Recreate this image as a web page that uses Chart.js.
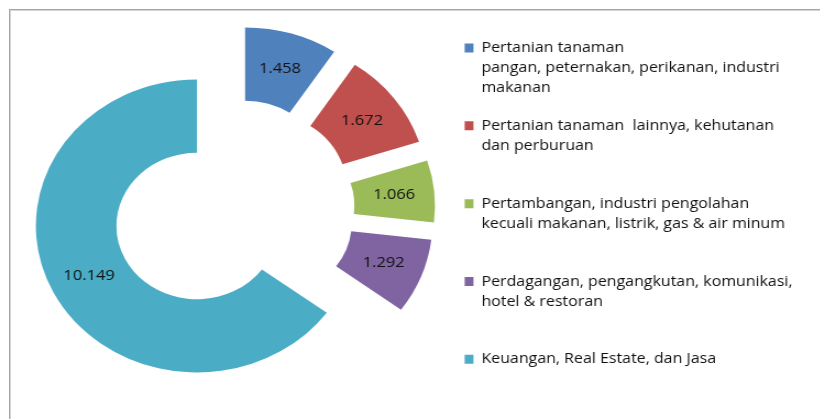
<!DOCTYPE html>
<html>
<head>
<meta charset="utf-8">
<script src="https://cdn.jsdelivr.net/npm/chart.js@4.4.0/dist/chart.umd.min.js"></script>
<style>
  html, body { margin: 0; padding: 0; background: #fff; overflow: hidden; }
  .frame {
    position: absolute; left: 9px; top: 9px; width: 900px; height: 500px;
    border-left: 1px solid #a6a6a6; border-top: 1px solid #a6a6a6;
    box-shadow: inset 1px 1px 0 #d4d4d4;
  }
  /* the original picture is stretched sideways a little */
  .stage { position: absolute; left: 0; top: 0; width: 746px; height: 419px; transform: scaleX(1.1); transform-origin: 0 0; }
</style>
</head>
<body>
<div class="frame"></div>
<div class="stage"><canvas id="chart" width="746" height="419"></canvas></div>
<script>
const labels = [
  ['Pertanian tanaman', 'pangan, peternakan, perikanan, industri', 'makanan'],
  ['Pertanian tanaman  lainnya, kehutanan', 'dan perburuan'],
  ['Pertambangan, industri pengolahan', 'kecuali makanan, listrik, gas & air minum'],
  ['Perdagangan, pengangkutan, komunikasi,', 'hotel & restoran'],
  ['Keuangan, Real Estate, dan Jasa']
];
const values = [1.458, 1.672, 1.066, 1.292, 10.149];
const colors = ['#4F81BD', '#C0504D', '#9BBB59', '#8064A2', '#4BACC6'];

const EXPLODE = 37; // every slice is pulled out by the same distance

// draw each arc shifted along its middle angle (chart.js offset also grows the radius)
const explode = {
  id: 'explode',
  beforeDatasetDraw(chart, args) {
    const c = chart.ctx;
    args.meta.data.forEach(arc => {
      const mid = (arc.startAngle + arc.endAngle) / 2;
      c.save();
      c.translate(Math.cos(mid) * EXPLODE, Math.sin(mid) * EXPLODE);
      arc.draw(c);
      c.restore();
    });
    return false;
  },
  afterDatasetsDraw(chart) {
    const c = chart.ctx;
    const meta = chart.getDatasetMeta(0);
    c.save();
    c.font = "15px 'Open Sans', sans-serif";
    c.fillStyle = '#111';
    c.textAlign = 'center';
    c.textBaseline = 'middle';
    meta.data.forEach((arc, i) => {
      const mid = (arc.startAngle + arc.endAngle) / 2;
      const r = (arc.innerRadius + arc.outerRadius) / 2 + EXPLODE;
      c.fillText(values[i].toFixed(3), arc.x + Math.cos(mid) * r, arc.y + Math.sin(mid) * r);
    });
    c.restore();
  }
};

new Chart(document.getElementById('chart'), {
  type: 'doughnut',
  data: {
    labels: labels,
    datasets: [{
      data: values,
      backgroundColor: colors,
      borderWidth: 0,
      hoverOffset: 0,
      radius: 146.5,
      cutout: '50%'
    }]
  },
  options: {
    responsive: false,
    animation: false,
    layout: { padding: { left: 19.6, right: 15.5, top: 23, bottom: 23.4 } },
    plugins: {
      tooltip: { enabled: false },
      legend: {
        position: 'right',
        align: 'start',
        labels: {
          boxWidth: 8,
          boxHeight: 9,
          padding: 17.8,
          color: '#111',
          font: { family: "'Open Sans', sans-serif", size: 14.5, lineHeight: '20px' },
          generateLabels(chart) {
            const items = Chart.overrides.doughnut.plugins.legend.labels.generateLabels(chart);
            // Excel spaces the entries evenly, as if each had three lines
            items.forEach((it, i) => {
              const t = Array.isArray(it.text) ? it.text.slice() : [it.text];
              if (i < items.length - 1) while (t.length < 3) t.push('');
              it.text = t;
            });
            return items;
          }
        }
      }
    }
  },
  plugins: [explode]
});
</script>
</body>
</html>
